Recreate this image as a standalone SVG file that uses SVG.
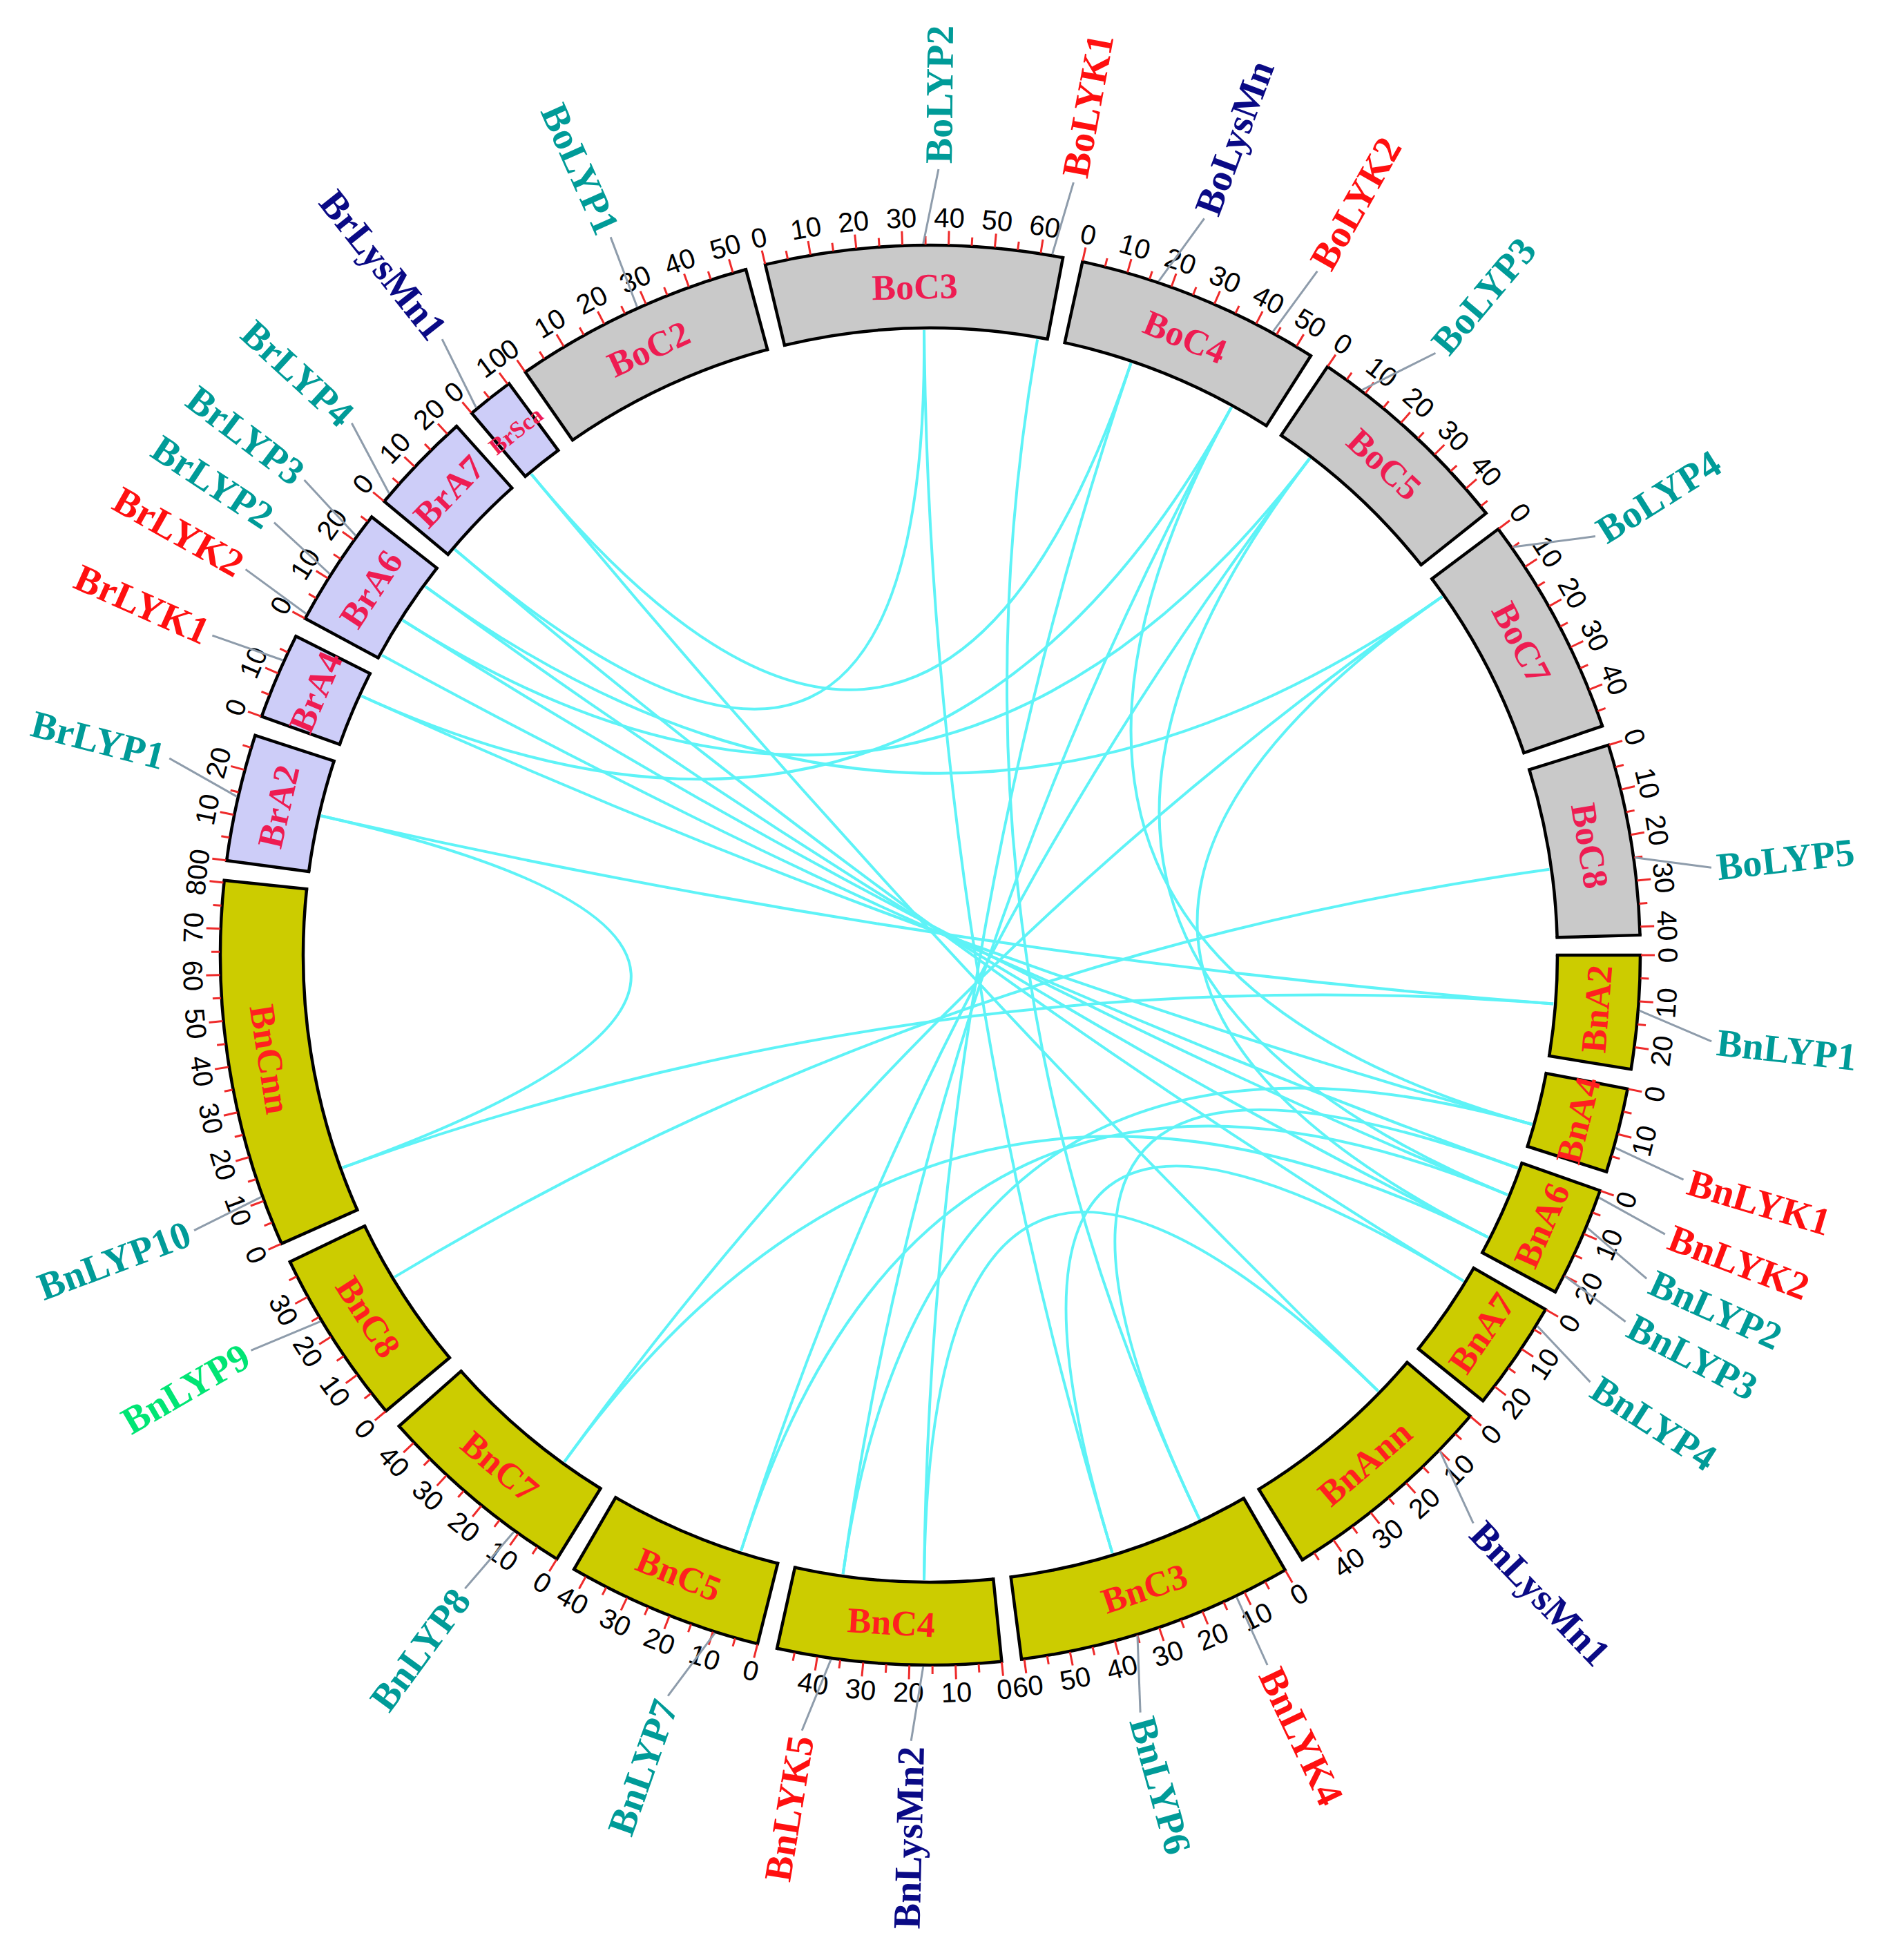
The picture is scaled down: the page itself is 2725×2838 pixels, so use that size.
<svg xmlns="http://www.w3.org/2000/svg" xmlns:xlink="http://www.w3.org/1999/xlink" width="2725" height="2838" viewBox="0 0 2725 2838">
<style>
.fo{fill:none;stroke:#c9c9c9;stroke-width:120}
.fn{fill:none;stroke:#cccc00;stroke-width:120}
.fr{fill:none;stroke:#cdcdf8;stroke-width:120}
.ol{fill:none;stroke:#000;stroke-width:4.5}
.tl{font-family:"Liberation Sans",Arial,sans-serif;font-size:40px;fill:#000;text-anchor:middle;dominant-baseline:central}
.sl{font-family:"Liberation Serif","Times New Roman",serif;font-weight:bold;font-size:52px;text-anchor:middle;dominant-baseline:central}
.so{fill:#ee1c52}
.sn{fill:#ff2020}
.gl{font-family:"Liberation Serif","Times New Roman",serif;font-weight:bold;font-size:56px;dominant-baseline:central}
.gs{text-anchor:start}
.ge{text-anchor:end}
.teal{fill:#009b98}
.red{fill:#ff1010}
.navy{fill:#0a0a85}
.green{fill:#00e574}
.cn{stroke:#8e9cab;stroke-width:3}
.lk{fill:none;stroke:#5ef3f7;stroke-width:4}
</style>
<defs>
<line id="M" x1="0" y1="-1029" x2="0" y2="-1049" stroke="#ee2a2a" stroke-width="3"/>
<line id="m" x1="0" y1="-1029" x2="0" y2="-1041" stroke="#ee2a2a" stroke-width="3"/>
<line id="cap" x1="0" y1="-908" x2="0" y2="-1028" stroke="#000" stroke-width="4.5" stroke-linecap="square"/>
<g id="k10"><use href="#M"/><use href="#m" transform="rotate(1.865)"/><use href="#M" transform="rotate(3.73)"/></g>
<g id="k15"><use href="#k10"/><use href="#m" transform="rotate(5.595)"/></g>
<g id="k20"><use href="#k15"/><use href="#M" transform="rotate(7.46)"/></g>
<g id="k25"><use href="#k20"/><use href="#m" transform="rotate(9.325)"/></g>
<g id="k35"><use href="#k25"/><use href="#M" transform="rotate(11.19)"/><use href="#m" transform="rotate(13.055)"/></g>
<g id="k40"><use href="#k35"/><use href="#M" transform="rotate(14.92)"/></g>
<g id="k45"><use href="#k40"/><use href="#m" transform="rotate(16.785)"/></g>
<g id="k50"><use href="#k45"/><use href="#M" transform="rotate(18.65)"/></g>
<g id="k60"><use href="#k50"/><use href="#m" transform="rotate(20.515)"/><use href="#M" transform="rotate(22.38)"/></g>
<g id="k80"><use href="#k60"/><use href="#m" transform="rotate(24.245)"/><use href="#M" transform="rotate(26.11)"/><use href="#m" transform="rotate(27.975)"/><use href="#M" transform="rotate(29.84)"/></g>
</defs>
<rect width="2725" height="2838" fill="#fff"/>
<g transform="translate(1347,1383)">

<g id="links">
<path class="lk" d="M-882.2,-201.8 Q0,0 902.2,70.6"/>
<path class="lk" d="M-882.2,-201.8 Q0,0 -851.1,307.7"/>
<path class="lk" d="M902.2,70.6 Q0,0 -851.1,307.7"/>
<path class="lk" d="M-823.6,-375.2 Q0,0 871.2,245.0"/>
<path class="lk" d="M-823.6,-375.2 Q0,0 435.9,-793.1"/>
<path class="lk" d="M435.9,-793.1 Q0,0 -126.4,896.1"/>
<path class="lk" d="M871.2,245.0 Q0,0 -126.4,896.1"/>
<path class="lk" d="M435.9,-793.1 Q0,0 871.2,245.0"/>
<path class="lk" d="M-794.0,-434.3 Q0,0 850.8,308.5"/>
<path class="lk" d="M155.2,-891.6 Q0,0 389.8,816.8"/>
<path class="lk" d="M850.8,308.5 Q0,0 389.8,816.8"/>
<path class="lk" d="M-577.8,-696.5 Q0,0 648.5,631.3"/>
<path class="lk" d="M-577.8,-696.5 Q0,0 290.5,-857.1"/>
<path class="lk" d="M290.5,-857.1 Q0,0 -9.0,905.0"/>
<path class="lk" d="M648.5,631.3 Q0,0 -9.0,905.0"/>
<path class="lk" d="M-764.1,-485.0 Q0,0 835.8,347.0"/>
<path class="lk" d="M-764.1,-485.0 Q0,0 549.4,-719.2"/>
<path class="lk" d="M549.4,-719.2 Q0,0 -274.0,862.5"/>
<path class="lk" d="M835.8,347.0 Q0,0 -274.0,862.5"/>
<path class="lk" d="M549.4,-719.2 Q0,0 835.8,347.0"/>
<path class="lk" d="M-730.9,-533.7 Q0,0 807.6,408.5"/>
<path class="lk" d="M-730.9,-533.7 Q0,0 741.2,-519.2"/>
<path class="lk" d="M741.2,-519.2 Q0,0 -529.8,733.7"/>
<path class="lk" d="M807.6,408.5 Q0,0 -529.8,733.7"/>
<path class="lk" d="M741.2,-519.2 Q0,0 807.6,408.5"/>
<path class="lk" d="M-688.5,-587.4 Q0,0 772.2,471.9"/>
<path class="lk" d="M-688.5,-587.4 Q0,0 -9.0,-905.0"/>
<path class="lk" d="M-9.0,-905.0 Q0,0 263.6,865.8"/>
<path class="lk" d="M772.2,471.9 Q0,0 263.6,865.8"/>
<path class="lk" d="M896.4,-124.2 Q0,0 -775.8,466.1"/>
</g>

<g id="BoC2" transform="rotate(325.217)">
<circle r="968" class="fo" stroke-dasharray="333.37 9000" transform="rotate(-90)"/>
<circle r="1028" class="ol" stroke-dasharray="354.03 9000" transform="rotate(-90)"/>
<circle r="908" class="ol" stroke-dasharray="312.71 9000" transform="rotate(-90)"/>
<use href="#cap"/><use href="#cap" transform="rotate(19.732)"/><use href="#k50"/>
<text class="tl" transform="translate(0,-1068)">0</text>
<text class="tl" transform="rotate(3.73) translate(0,-1068)">10</text>
<text class="tl" transform="rotate(7.46) translate(0,-1068)">20</text>
<text class="tl" transform="rotate(11.19) translate(0,-1068)">30</text>
<text class="tl" transform="rotate(14.92) translate(0,-1068)">40</text>
<text class="tl" transform="rotate(18.65) translate(0,-1068)">50</text>
<text class="sl so" transform="rotate(9.866) translate(0,-968)">BoC2</text>
</g>

<g id="BoC3" transform="rotate(346.56)">
<circle r="968" class="fo" stroke-dasharray="408.99 9000" transform="rotate(-90)"/>
<circle r="1028" class="ol" stroke-dasharray="434.34 9000" transform="rotate(-90)"/>
<circle r="908" class="ol" stroke-dasharray="383.64 9000" transform="rotate(-90)"/>
<use href="#cap"/><use href="#cap" transform="rotate(24.208)"/><use href="#k60"/>
<text class="tl" transform="translate(0,-1068)">0</text>
<text class="tl" transform="rotate(3.73) translate(0,-1068)">10</text>
<text class="tl" transform="rotate(7.46) translate(0,-1068)">20</text>
<text class="tl" transform="rotate(11.19) translate(0,-1068)">30</text>
<text class="tl" transform="rotate(14.92) translate(0,-1068)">40</text>
<text class="tl" transform="rotate(18.65) translate(0,-1068)">50</text>
<text class="tl" transform="rotate(22.38) translate(0,-1068)">60</text>
<text class="sl so" transform="rotate(12.104) translate(0,-968)">BoC3</text>
</g>

<g id="BoC4" transform="rotate(12.379)">
<circle r="968" class="fo" stroke-dasharray="338.40 9000" transform="rotate(-90)"/>
<circle r="1028" class="ol" stroke-dasharray="359.38 9000" transform="rotate(-90)"/>
<circle r="908" class="ol" stroke-dasharray="317.43 9000" transform="rotate(-90)"/>
<use href="#cap"/><use href="#cap" transform="rotate(20.03)"/><use href="#k50"/>
<text class="tl" transform="translate(0,-1068)">0</text>
<text class="tl" transform="rotate(3.73) translate(0,-1068)">10</text>
<text class="tl" transform="rotate(7.46) translate(0,-1068)">20</text>
<text class="tl" transform="rotate(11.19) translate(0,-1068)">30</text>
<text class="tl" transform="rotate(14.92) translate(0,-1068)">40</text>
<text class="tl" transform="rotate(18.65) translate(0,-1068)">50</text>
<text class="sl so" transform="rotate(10.015) translate(0,-968)">BoC4</text>
</g>

<g id="BoC5" transform="rotate(34.02)">
<circle r="968" class="fo" stroke-dasharray="295.56 9000" transform="rotate(-90)"/>
<circle r="1028" class="ol" stroke-dasharray="313.88 9000" transform="rotate(-90)"/>
<circle r="908" class="ol" stroke-dasharray="277.24 9000" transform="rotate(-90)"/>
<use href="#cap"/><use href="#cap" transform="rotate(17.494)"/><use href="#k45"/>
<text class="tl" transform="translate(0,-1068)">0</text>
<text class="tl" transform="rotate(3.73) translate(0,-1068)">10</text>
<text class="tl" transform="rotate(7.46) translate(0,-1068)">20</text>
<text class="tl" transform="rotate(11.19) translate(0,-1068)">30</text>
<text class="tl" transform="rotate(14.92) translate(0,-1068)">40</text>
<text class="sl so" transform="rotate(8.747) translate(0,-968)">BoC5</text>
</g>

<g id="BoC7" transform="rotate(53.125)">
<circle r="968" class="fo" stroke-dasharray="305.00 9000" transform="rotate(-90)"/>
<circle r="1028" class="ol" stroke-dasharray="323.91 9000" transform="rotate(-90)"/>
<circle r="908" class="ol" stroke-dasharray="286.10 9000" transform="rotate(-90)"/>
<use href="#cap"/><use href="#cap" transform="rotate(18.053)"/><use href="#k45"/>
<text class="tl" transform="translate(0,-1068)">0</text>
<text class="tl" transform="rotate(3.73) translate(0,-1068)">10</text>
<text class="tl" transform="rotate(7.46) translate(0,-1068)">20</text>
<text class="tl" transform="rotate(11.19) translate(0,-1068)">30</text>
<text class="tl" transform="rotate(14.92) translate(0,-1068)">40</text>
<text class="sl so" transform="rotate(9.027) translate(0,-968)">BoC7</text>
</g>

<g id="BoC8" transform="rotate(72.789)">
<circle r="968" class="fo" stroke-dasharray="263.41 9000" transform="rotate(-90)"/>
<circle r="1028" class="ol" stroke-dasharray="279.74 9000" transform="rotate(-90)"/>
<circle r="908" class="ol" stroke-dasharray="247.08 9000" transform="rotate(-90)"/>
<use href="#cap"/><use href="#cap" transform="rotate(15.591)"/><use href="#k40"/>
<text class="tl" transform="translate(0,-1068)">0</text>
<text class="tl" transform="rotate(3.73) translate(0,-1068)">10</text>
<text class="tl" transform="rotate(7.46) translate(0,-1068)">20</text>
<text class="tl" transform="rotate(11.19) translate(0,-1068)">30</text>
<text class="tl" transform="rotate(14.92) translate(0,-1068)">40</text>
<text class="sl so" transform="rotate(7.796) translate(0,-968)">BoC8</text>
</g>

<g id="BnA2" transform="rotate(90)">
<circle r="968" class="fn" stroke-dasharray="156.28 9000" transform="rotate(-90)"/>
<circle r="1028" class="ol" stroke-dasharray="165.96 9000" transform="rotate(-90)"/>
<circle r="908" class="ol" stroke-dasharray="146.59 9000" transform="rotate(-90)"/>
<use href="#cap"/><use href="#cap" transform="rotate(9.25)"/><use href="#k20"/>
<text class="tl" transform="translate(0,-1068) rotate(180)">0</text>
<text class="tl" transform="rotate(3.73) translate(0,-1068) rotate(180)">10</text>
<text class="tl" transform="rotate(7.46) translate(0,-1068) rotate(180)">20</text>
<text class="sl sn" transform="rotate(4.625) translate(0,-968) rotate(180)">BnA2</text>
</g>

<g id="BnA4" transform="rotate(100.861)">
<circle r="968" class="fn" stroke-dasharray="116.59 9000" transform="rotate(-90)"/>
<circle r="1028" class="ol" stroke-dasharray="123.82 9000" transform="rotate(-90)"/>
<circle r="908" class="ol" stroke-dasharray="109.36 9000" transform="rotate(-90)"/>
<use href="#cap"/><use href="#cap" transform="rotate(6.901)"/><use href="#k15"/>
<text class="tl" transform="translate(0,-1068) rotate(180)">0</text>
<text class="tl" transform="rotate(3.73) translate(0,-1068) rotate(180)">10</text>
<text class="sl sn" transform="rotate(3.45) translate(0,-968) rotate(180)">BnA4</text>
</g>

<g id="BnA6" transform="rotate(109.373)">
<circle r="968" class="fn" stroke-dasharray="151.24 9000" transform="rotate(-90)"/>
<circle r="1028" class="ol" stroke-dasharray="160.62 9000" transform="rotate(-90)"/>
<circle r="908" class="ol" stroke-dasharray="141.87 9000" transform="rotate(-90)"/>
<use href="#cap"/><use href="#cap" transform="rotate(8.952)"/><use href="#k20"/>
<text class="tl" transform="translate(0,-1068) rotate(180)">0</text>
<text class="tl" transform="rotate(3.73) translate(0,-1068) rotate(180)">10</text>
<text class="tl" transform="rotate(7.46) translate(0,-1068) rotate(180)">20</text>
<text class="sl sn" transform="rotate(4.476) translate(0,-968) rotate(180)">BnA6</text>
</g>

<g id="BnA7" transform="rotate(119.936)">
<circle r="968" class="fn" stroke-dasharray="151.24 9000" transform="rotate(-90)"/>
<circle r="1028" class="ol" stroke-dasharray="160.62 9000" transform="rotate(-90)"/>
<circle r="908" class="ol" stroke-dasharray="141.87 9000" transform="rotate(-90)"/>
<use href="#cap"/><use href="#cap" transform="rotate(8.952)"/><use href="#k20"/>
<text class="tl" transform="translate(0,-1068) rotate(180)">0</text>
<text class="tl" transform="rotate(3.73) translate(0,-1068) rotate(180)">10</text>
<text class="tl" transform="rotate(7.46) translate(0,-1068) rotate(180)">20</text>
<text class="sl sn" transform="rotate(4.476) translate(0,-968) rotate(180)">BnA7</text>
</g>

<g id="BnAnn" transform="rotate(130.499)">
<circle r="968" class="fn" stroke-dasharray="302.49 9000" transform="rotate(-90)"/>
<circle r="1028" class="ol" stroke-dasharray="321.23 9000" transform="rotate(-90)"/>
<circle r="908" class="ol" stroke-dasharray="283.74 9000" transform="rotate(-90)"/>
<use href="#cap"/><use href="#cap" transform="rotate(17.904)"/><use href="#k45"/>
<text class="tl" transform="translate(0,-1068) rotate(180)">0</text>
<text class="tl" transform="rotate(3.73) translate(0,-1068) rotate(180)">10</text>
<text class="tl" transform="rotate(7.46) translate(0,-1068) rotate(180)">20</text>
<text class="tl" transform="rotate(11.19) translate(0,-1068) rotate(180)">30</text>
<text class="tl" transform="rotate(14.92) translate(0,-1068) rotate(180)">40</text>
<text class="sl sn" transform="rotate(8.952) translate(0,-968) rotate(180)">BnAnn</text>
</g>

<g id="BnC3" transform="rotate(150.014)">
<circle r="968" class="fn" stroke-dasharray="381.89 9000" transform="rotate(-90)"/>
<circle r="1028" class="ol" stroke-dasharray="405.56 9000" transform="rotate(-90)"/>
<circle r="908" class="ol" stroke-dasharray="358.22 9000" transform="rotate(-90)"/>
<use href="#cap"/><use href="#cap" transform="rotate(22.604)"/><use href="#k60"/>
<text class="tl" transform="translate(0,-1068) rotate(180)">0</text>
<text class="tl" transform="rotate(3.73) translate(0,-1068) rotate(180)">10</text>
<text class="tl" transform="rotate(7.46) translate(0,-1068) rotate(180)">20</text>
<text class="tl" transform="rotate(11.19) translate(0,-1068) rotate(180)">30</text>
<text class="tl" transform="rotate(14.92) translate(0,-1068) rotate(180)">40</text>
<text class="tl" transform="rotate(18.65) translate(0,-1068) rotate(180)">50</text>
<text class="tl" transform="rotate(22.38) translate(0,-1068) rotate(180)">60</text>
<text class="sl sn" transform="rotate(11.302) translate(0,-968) rotate(180)">BnC3</text>
</g>

<g id="BnC4" transform="rotate(174.229)">
<circle r="968" class="fn" stroke-dasharray="308.16 9000" transform="rotate(-90)"/>
<circle r="1028" class="ol" stroke-dasharray="327.26 9000" transform="rotate(-90)"/>
<circle r="908" class="ol" stroke-dasharray="289.06 9000" transform="rotate(-90)"/>
<use href="#cap"/><use href="#cap" transform="rotate(18.24)"/><use href="#k45"/>
<text class="tl" transform="translate(0,-1068) rotate(180)">0</text>
<text class="tl" transform="rotate(3.73) translate(0,-1068) rotate(180)">10</text>
<text class="tl" transform="rotate(7.46) translate(0,-1068) rotate(180)">20</text>
<text class="tl" transform="rotate(11.19) translate(0,-1068) rotate(180)">30</text>
<text class="tl" transform="rotate(14.92) translate(0,-1068) rotate(180)">40</text>
<text class="sl sn" transform="rotate(9.12) translate(0,-968) rotate(180)">BnC4</text>
</g>

<g id="BnC5" transform="rotate(194.08)">
<circle r="968" class="fn" stroke-dasharray="270.98 9000" transform="rotate(-90)"/>
<circle r="1028" class="ol" stroke-dasharray="287.77 9000" transform="rotate(-90)"/>
<circle r="908" class="ol" stroke-dasharray="254.18 9000" transform="rotate(-90)"/>
<use href="#cap"/><use href="#cap" transform="rotate(16.039)"/><use href="#k40"/>
<text class="tl" transform="translate(0,-1068) rotate(180)">0</text>
<text class="tl" transform="rotate(3.73) translate(0,-1068) rotate(180)">10</text>
<text class="tl" transform="rotate(7.46) translate(0,-1068) rotate(180)">20</text>
<text class="tl" transform="rotate(11.19) translate(0,-1068) rotate(180)">30</text>
<text class="tl" transform="rotate(14.92) translate(0,-1068) rotate(180)">40</text>
<text class="sl sn" transform="rotate(8.02) translate(0,-968) rotate(180)">BnC5</text>
</g>

<g id="BnC7" transform="rotate(211.73)">
<circle r="968" class="fn" stroke-dasharray="282.31 9000" transform="rotate(-90)"/>
<circle r="1028" class="ol" stroke-dasharray="299.81 9000" transform="rotate(-90)"/>
<circle r="908" class="ol" stroke-dasharray="264.81 9000" transform="rotate(-90)"/>
<use href="#cap"/><use href="#cap" transform="rotate(16.71)"/><use href="#k40"/>
<text class="tl" transform="translate(0,-1068) rotate(180)">0</text>
<text class="tl" transform="rotate(3.73) translate(0,-1068) rotate(180)">10</text>
<text class="tl" transform="rotate(7.46) translate(0,-1068) rotate(180)">20</text>
<text class="tl" transform="rotate(11.19) translate(0,-1068) rotate(180)">30</text>
<text class="tl" transform="rotate(14.92) translate(0,-1068) rotate(180)">40</text>
<text class="sl sn" transform="rotate(8.355) translate(0,-968) rotate(180)">BnC7</text>
</g>

<g id="BnC8" transform="rotate(230.051)">
<circle r="968" class="fn" stroke-dasharray="242.63 9000" transform="rotate(-90)"/>
<circle r="1028" class="ol" stroke-dasharray="257.67 9000" transform="rotate(-90)"/>
<circle r="908" class="ol" stroke-dasharray="227.59 9000" transform="rotate(-90)"/>
<use href="#cap"/><use href="#cap" transform="rotate(14.361)"/><use href="#k35"/>
<text class="tl" transform="translate(0,-1068) rotate(180)">0</text>
<text class="tl" transform="rotate(3.73) translate(0,-1068) rotate(180)">10</text>
<text class="tl" transform="rotate(7.46) translate(0,-1068) rotate(180)">20</text>
<text class="tl" transform="rotate(11.19) translate(0,-1068) rotate(180)">30</text>
<text class="sl sn" transform="rotate(7.18) translate(0,-968) rotate(180)">BnC8</text>
</g>

<g id="BnCnn" transform="rotate(246.023)">
<circle r="968" class="fn" stroke-dasharray="507.30 9000" transform="rotate(-90)"/>
<circle r="1028" class="ol" stroke-dasharray="538.74 9000" transform="rotate(-90)"/>
<circle r="908" class="ol" stroke-dasharray="475.86 9000" transform="rotate(-90)"/>
<use href="#cap"/><use href="#cap" transform="rotate(30.027)"/><use href="#k80"/>
<text class="tl" transform="translate(0,-1068) rotate(180)">0</text>
<text class="tl" transform="rotate(3.73) translate(0,-1068) rotate(180)">10</text>
<text class="tl" transform="rotate(7.46) translate(0,-1068) rotate(180)">20</text>
<text class="tl" transform="rotate(11.19) translate(0,-1068) rotate(180)">30</text>
<text class="tl" transform="rotate(14.92) translate(0,-1068) rotate(180)">40</text>
<text class="tl" transform="rotate(18.65) translate(0,-1068) rotate(180)">50</text>
<text class="tl" transform="rotate(22.38) translate(0,-1068) rotate(180)">60</text>
<text class="tl" transform="rotate(26.11) translate(0,-1068)">70</text>
<text class="tl" transform="rotate(29.84) translate(0,-1068)">80</text>
<text class="sl sn" transform="rotate(15.014) translate(0,-968) rotate(180)">BnCnn</text>
</g>

<g id="BrA2" transform="rotate(277.661)">
<circle r="968" class="fr" stroke-dasharray="175.18 9000" transform="rotate(-90)"/>
<circle r="1028" class="ol" stroke-dasharray="186.04 9000" transform="rotate(-90)"/>
<circle r="908" class="ol" stroke-dasharray="164.32 9000" transform="rotate(-90)"/>
<use href="#cap"/><use href="#cap" transform="rotate(10.369)"/><use href="#k25"/>
<text class="tl" transform="translate(0,-1068)">0</text>
<text class="tl" transform="rotate(3.73) translate(0,-1068)">10</text>
<text class="tl" transform="rotate(7.46) translate(0,-1068)">20</text>
<text class="sl so" transform="rotate(5.185) translate(0,-968)">BrA2</text>
</g>

<g id="BrA4" transform="rotate(289.641)">
<circle r="968" class="fr" stroke-dasharray="119.11 9000" transform="rotate(-90)"/>
<circle r="1028" class="ol" stroke-dasharray="126.49 9000" transform="rotate(-90)"/>
<circle r="908" class="ol" stroke-dasharray="111.73 9000" transform="rotate(-90)"/>
<use href="#cap"/><use href="#cap" transform="rotate(7.05)"/><use href="#k15"/>
<text class="tl" transform="translate(0,-1068)">0</text>
<text class="tl" transform="rotate(3.73) translate(0,-1068)">10</text>
<text class="sl so" transform="rotate(3.525) translate(0,-968)">BrA4</text>
</g>

<g id="BrA6" transform="rotate(298.302)">
<circle r="968" class="fr" stroke-dasharray="165.74 9000" transform="rotate(-90)"/>
<circle r="1028" class="ol" stroke-dasharray="176.01 9000" transform="rotate(-90)"/>
<circle r="908" class="ol" stroke-dasharray="155.47 9000" transform="rotate(-90)"/>
<use href="#cap"/><use href="#cap" transform="rotate(9.81)"/><use href="#k25"/>
<text class="tl" transform="translate(0,-1068)">0</text>
<text class="tl" transform="rotate(3.73) translate(0,-1068)">10</text>
<text class="tl" transform="rotate(7.46) translate(0,-1068)">20</text>
<text class="sl so" transform="rotate(4.905) translate(0,-968)">BrA6</text>
</g>

<g id="BrA7" transform="rotate(309.723)">
<circle r="968" class="fr" stroke-dasharray="142.42 9000" transform="rotate(-90)"/>
<circle r="1028" class="ol" stroke-dasharray="151.25 9000" transform="rotate(-90)"/>
<circle r="908" class="ol" stroke-dasharray="133.60 9000" transform="rotate(-90)"/>
<use href="#cap"/><use href="#cap" transform="rotate(8.43)"/><use href="#k20"/>
<text class="tl" transform="translate(0,-1068)">0</text>
<text class="tl" transform="rotate(3.73) translate(0,-1068)">10</text>
<text class="tl" transform="rotate(7.46) translate(0,-1068)">20</text>
<text class="sl so" transform="rotate(4.215) translate(0,-968)">BrA7</text>
</g>

<g id="BrSca" transform="rotate(319.764)">
<circle r="968" class="fr" stroke-dasharray="64.91 9000" transform="rotate(-90)"/>
<circle r="1028" class="ol" stroke-dasharray="68.93 9000" transform="rotate(-90)"/>
<circle r="908" class="ol" stroke-dasharray="60.89 9000" transform="rotate(-90)"/>
<use href="#cap"/><use href="#cap" transform="rotate(3.842)"/><use href="#k10"/>
<text class="tl" transform="translate(0,-1068)">0</text>
<text class="tl" transform="rotate(3.73) translate(0,-1068)">10</text>
<text class="sl so" style="font-size:34px" transform="rotate(1.921) translate(0,-968)">BrSca</text>
</g>

<g id="gene-BoLYP1" transform="rotate(335.661)"><line class="cn" x1="0" y1="-1030" x2="6.73" y2="-1137.98"/><text class="gl ge teal" transform="rotate(0.339) translate(0,-1146) rotate(90)">BoLYP1</text></g>
<g id="gene-BoLYP2" transform="rotate(359.429)"><line class="cn" x1="0" y1="-1030" x2="23.26" y2="-1137.76"/><text class="gl gs teal" transform="rotate(1.171) translate(0,-1146) rotate(-90)">BoLYP2</text></g>
<g id="gene-BoLYK1" transform="rotate(9.873)"><line class="cn" x1="0" y1="-1030" x2="12.45" y2="-1137.93"/><text class="gl gs red" transform="rotate(0.627) translate(0,-1146) rotate(-90)">BoLYK1</text></g>
<g id="gene-BoLysMn" transform="rotate(18.72)"><line class="cn" x1="0" y1="-1030" x2="33.36" y2="-1137.51"/><text class="gl gs navy" transform="rotate(1.68) translate(0,-1146) rotate(-90)">BoLysMn</text></g>
<g id="gene-BoLYK2" transform="rotate(28.791)"><line class="cn" x1="0" y1="-1030" x2="14.08" y2="-1137.91"/><text class="gl gs red" transform="rotate(0.709) translate(0,-1146) rotate(-90)">BoLYK2</text></g>
<g id="gene-BoLYP3" transform="rotate(37.377)"><line class="cn" x1="0" y1="-1030" x2="52.08" y2="-1136.81"/><text class="gl gs teal" transform="rotate(2.623) translate(0,-1146) rotate(-90)">BoLYP3</text></g>
<g id="gene-BoLYP4" transform="rotate(54.99)"><line class="cn" x1="0" y1="-1030" x2="55.79" y2="-1136.63"/><text class="gl gs teal" transform="rotate(2.81) translate(0,-1146) rotate(-90)">BoLYP4</text></g>
<g id="gene-BoLYP5" transform="rotate(82.114)"><line class="cn" x1="0" y1="-1030" x2="29.51" y2="-1137.62"/><text class="gl gs teal" transform="rotate(1.486) translate(0,-1146) rotate(-90)">BoLYP5</text></g>
<g id="gene-BnLYP1" transform="rotate(94.476)"><line class="cn" x1="0" y1="-1030" x2="36.22" y2="-1137.42"/><text class="gl gs teal" transform="rotate(1.824) translate(0,-1146) rotate(-90)">BnLYP1</text></g>
<g id="gene-BnLYK1" transform="rotate(105.71)"><line class="cn" x1="0" y1="-1030" x2="17.68" y2="-1137.86"/><text class="gl gs red" transform="rotate(0.89) translate(0,-1146) rotate(-90)">BnLYK1</text></g>
<g id="gene-BnLYK2" transform="rotate(109.933)"><line class="cn" x1="0" y1="-1030" x2="17.22" y2="-1137.87"/><text class="gl gs red" transform="rotate(0.867) translate(0,-1146) rotate(-90)">BnLYK2</text></g>
<g id="gene-BnLYP2" transform="rotate(112.544)"><line class="cn" x1="0" y1="-1030" x2="34.87" y2="-1137.47"/><text class="gl gs teal" transform="rotate(1.756) translate(0,-1146) rotate(-90)">BnLYP2</text></g>
<g id="gene-BnLYP3" transform="rotate(116.833)"><line class="cn" x1="0" y1="-1030" x2="19.21" y2="-1137.84"/><text class="gl gs teal" transform="rotate(0.967) translate(0,-1146) rotate(-90)">BnLYP3</text></g>
<g id="gene-BnLYP4" transform="rotate(121.428)"><line class="cn" x1="0" y1="-1030" x2="29.23" y2="-1137.62"/><text class="gl gs teal" transform="rotate(1.472) translate(0,-1146) rotate(-90)">BnLYP4</text></g>
<g id="gene-BnLysMn1" transform="rotate(134.229)"><line class="cn" x1="0" y1="-1030" x2="41.13" y2="-1137.26"/><text class="gl gs navy" transform="rotate(2.071) translate(0,-1146) rotate(-90)">BnLysMn1</text></g>
<g id="gene-BnLYK4" transform="rotate(154.49)"><line class="cn" x1="0" y1="-1030" x2="2.18" y2="-1138"/><text class="gl gs red" transform="rotate(0.11) translate(0,-1146) rotate(-90)">BnLYK4</text></g>
<g id="gene-BnLYP6" transform="rotate(163.069)"><line class="cn" x1="0" y1="-1030" x2="28.42" y2="-1137.64"/><text class="gl gs teal" transform="rotate(1.431) translate(0,-1146) rotate(-90)">BnLYP6</text></g>
<g id="gene-BnLysMn2" transform="rotate(180.57)"><line class="cn" x1="0" y1="-1030" x2="16.49" y2="-1137.88"/><text class="gl ge navy" transform="rotate(0.83) translate(0,-1146) rotate(90)">BnLysMn2</text></g>
<g id="gene-BnLYK5" transform="rotate(188.03)"><line class="cn" x1="0" y1="-1030" x2="27.21" y2="-1137.67"/><text class="gl ge red" transform="rotate(1.37) translate(0,-1146) rotate(90)">BnLYK5</text></g>
<g id="gene-BnLYP7" transform="rotate(197.624)"><line class="cn" x1="0" y1="-1030" x2="37.25" y2="-1137.39"/><text class="gl ge teal" transform="rotate(1.876) translate(0,-1146) rotate(90)">BnLYP7</text></g>
<g id="gene-BnLYP8" transform="rotate(215.833)"><line class="cn" x1="0" y1="-1030" x2="9.28" y2="-1137.96"/><text class="gl ge teal" transform="rotate(0.467) translate(0,-1146) rotate(90)">BnLYP8</text></g>
<g id="gene-BnLYP9" transform="rotate(239.003)"><line class="cn" x1="0" y1="-1030" x2="15.83" y2="-1137.89"/><text class="gl ge green" transform="rotate(0.797) translate(0,-1146) rotate(90)">BnLYP9</text></g>
<g id="gene-BnLYP10" transform="rotate(250.126)"><line class="cn" x1="0" y1="-1030" x2="-12.43" y2="-1137.93"/><text class="gl ge teal" transform="rotate(-0.626) translate(0,-1146) rotate(90)">BnLYP10</text></g>
<g id="gene-BrLYP1" transform="rotate(282.883)"><line class="cn" x1="0" y1="-1030" x2="32.11" y2="-1137.55"/><text class="gl ge teal" transform="rotate(1.617) translate(0,-1146) rotate(90)">BrLYP1</text></g>
<g id="gene-BrLYK1" transform="rotate(294.49)"><line class="cn" x1="0" y1="-1030" x2="-9.73" y2="-1137.96"/><text class="gl ge red" transform="rotate(-0.49) translate(0,-1146) rotate(90)">BrLYK1</text></g>
<g id="gene-BrLYK2" transform="rotate(298.675)"><line class="cn" x1="0" y1="-1030" x2="14.40" y2="-1137.91"/><text class="gl ge red" transform="rotate(0.725) translate(0,-1146) rotate(90)">BrLYK2</text></g>
<g id="gene-BrLYP2" transform="rotate(302.405)"><line class="cn" x1="0" y1="-1030" x2="19.76" y2="-1137.83"/><text class="gl ge teal" transform="rotate(0.995) translate(0,-1146) rotate(90)">BrLYP2</text></g>
<g id="gene-BrLYP3" transform="rotate(306.135)"><line class="cn" x1="0" y1="-1030" x2="21.15" y2="-1137.8"/><text class="gl ge teal" transform="rotate(1.065) translate(0,-1146) rotate(90)">BrLYP3</text></g>
<g id="gene-BrLYP4" transform="rotate(310.469)"><line class="cn" x1="0" y1="-1030" x2="42.32" y2="-1137.21"/><text class="gl ge teal" transform="rotate(2.131) translate(0,-1146) rotate(90)">BrLYP4</text></g>
<g id="gene-BrLysMn1" transform="rotate(320.324)"><line class="cn" x1="0" y1="-1030" x2="25.34" y2="-1137.72"/><text class="gl ge navy" transform="rotate(1.276) translate(0,-1146) rotate(90)">BrLysMn1</text></g>

</g>
</svg>
